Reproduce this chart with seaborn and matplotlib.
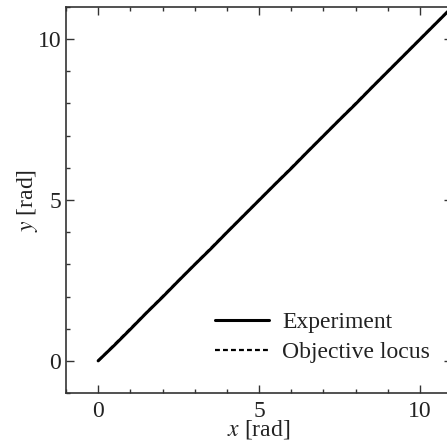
import matplotlib
matplotlib.use("Agg")
import matplotlib.pyplot as plt
import seaborn as sns
import numpy as np
import pandas as pd
from matplotlib.ticker import MultipleLocator

# data
exp_x = [0.0, 0.5, 1.0, 1.5, 2.0, 2.5, 3.0, 3.5, 4.0, 4.5, 5.0, 5.5, 6.0, 6.5, 7.0,
         7.5, 8.0, 8.5, 9.0, 9.5, 10.0, 10.5, 11.0, 11.5, 12.0]
exp_y = [0.0, 0.48, 0.98, 1.49, 1.98, 2.49, 2.99, 3.48, 3.99, 4.49, 4.99, 5.49, 5.98,
         6.49, 6.99, 7.49, 7.98, 8.49, 8.99, 9.49, 9.99, 10.49, 10.99, 11.49, 11.99]
obj_x = [0.0, 12.0]
obj_y = [0.0, 12.0]
xticks = [0, 5, 10]
yticks = [0, 5, 10]

sns.set_style("ticks")
plt.rcParams['font.family'] = ['Liberation Serif', 'DejaVu Serif']
plt.rcParams['mathtext.fontset'] = 'stix'

fig = plt.figure(figsize=(4.47, 4.40), dpi=100)
ax = fig.add_axes([66/447, 47/440, 386/447, 386/440])

df_exp = pd.DataFrame({"x": exp_x, "y": exp_y})
df_obj = pd.DataFrame({"x": obj_x, "y": obj_y})
sns.lineplot(data=df_exp, x="x", y="y", ax=ax, color="black", lw=2.2,
             sort=False, estimator=None, label="Experiment")
sns.lineplot(data=df_obj, x="x", y="y", ax=ax, color="black", lw=1.6,
             linestyle=(0, (2.2, 1.4)), sort=False, estimator=None,
             label="Objective locus")

ax.set_xlim(-1, 11)
ax.set_ylim(-1, 11)
ax.set_xticks(xticks)
ax.set_yticks(yticks)
ax.xaxis.set_minor_locator(MultipleLocator(1))
ax.yaxis.set_minor_locator(MultipleLocator(1))
ax.tick_params(which='both', direction='in', top=True, right=True,
               labelsize=17, colors='#333333', labelcolor='#222222')
ax.tick_params(which='major', length=6, width=1)
ax.tick_params(which='minor', length=3, width=1)
ax.tick_params(axis='x', pad=6)
for s in ax.spines.values():
    s.set_color('#333333')
    s.set_linewidth(1.2)

ax.set_xlabel("$x$ [rad]", fontsize=17, color='#222222', labelpad=-3)
ax.set_ylabel("$y$ [rad]", fontsize=17, color='#222222', labelpad=-2)

leg = ax.legend(loc='lower right', bbox_to_anchor=(364/386, 30/386), frameon=False,
                fontsize=17, handlelength=2.3, handletextpad=0.55,
                labelspacing=0.36, borderpad=0, borderaxespad=0)
for t in leg.get_texts():
    t.set_color('#222222')

fig.savefig("out.png", dpi=100)
